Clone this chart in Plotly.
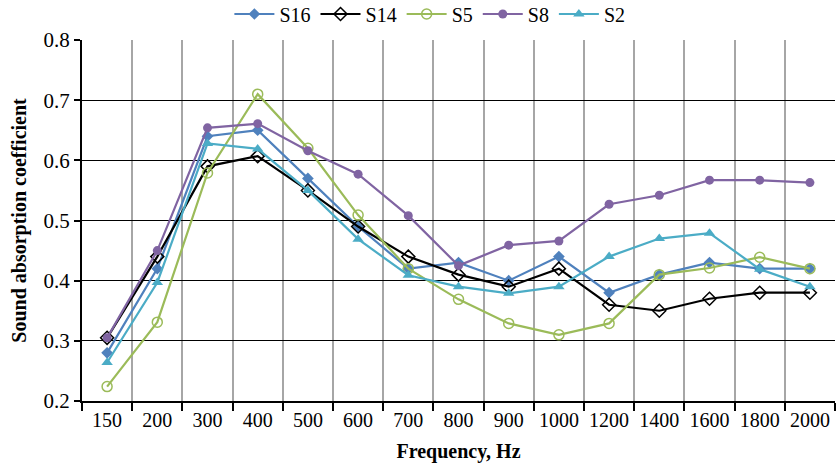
import plotly.graph_objects as go

freqs = ["150", "200", "300", "400", "500", "600", "700", "800", "900", "1000",
         "1200", "1400", "1600", "1800", "2000"]
s16 = [0.28, 0.42, 0.64, 0.65, 0.57, 0.49, 0.42, 0.43, 0.40, 0.44, 0.38, 0.41, 0.43, 0.42, 0.42]
s14 = [0.305, 0.44, 0.59, 0.607, 0.55, 0.49, 0.44, 0.41, 0.39, 0.42, 0.36, 0.35, 0.37, 0.38, 0.38]
s5 = [0.224, 0.331, 0.579, 0.71, 0.62, 0.509, 0.42, 0.369, 0.329, 0.31, 0.329, 0.41, 0.421, 0.439, 0.42]
s8 = [0.305, 0.45, 0.654, 0.661, 0.616, 0.577, 0.508, 0.425, 0.459, 0.466, 0.527, 0.542, 0.567, 0.567, 0.563]
s2 = [0.264, 0.397, 0.628, 0.619, 0.55, 0.469, 0.409, 0.39, 0.379, 0.39, 0.44, 0.47, 0.479, 0.419, 0.39]

series = [
    ("S16", s16, "#4F81BD", dict(symbol="diamond", size=9, color="#4F81BD")),
    ("S14", s14, "#000000", dict(symbol="diamond-open", size=10, color="#000000", line=dict(width=1.5))),
    ("S5", s5, "#9BBB59", dict(symbol="circle-open", size=10, color="#9BBB59", line=dict(width=1.5))),
    ("S8", s8, "#8064A2", dict(symbol="circle", size=9, color="#8064A2")),
    ("S2", s2, "#4BACC6", dict(symbol="triangle-up", size=10, color="#4BACC6")),
]

fig = go.Figure()
for name, vals, col, mk in series:
    fig.add_trace(go.Scatter(x=freqs, y=vals, name=name, mode="lines+markers",
                             line=dict(color=col, width=2.2), marker=mk))

font = "Liberation Serif, Times New Roman, serif"
fig.update_layout(
    width=838, height=469,
    margin=dict(l=82, r=3, t=40, b=68, autoexpand=False),
    plot_bgcolor="white", paper_bgcolor="white",
    font=dict(family=font, size=20, color="black"),
    legend=dict(orientation="h", x=0.462, xanchor="center", y=1.072, yanchor="middle",
                font=dict(size=20), itemwidth=40, bgcolor="rgba(0,0,0,0)"),
    xaxis=dict(type="category", tickson="boundaries", range=[-0.5, 14.5],
               showgrid=True, gridcolor="#A6A6A6", tickangle=0,
               gridwidth=2, showline=True, linecolor="black", linewidth=2,
               ticks="outside", ticklen=8, tickcolor="black", tickwidth=1.5,
               title=dict(text="<b>Frequency, Hz</b>", font=dict(size=20), standoff=14),
               tickfont=dict(size=20)),
    yaxis=dict(range=[0.2, 0.8], dtick=0.1, tickformat=".1f", showgrid=True,
               gridcolor="black", gridwidth=1, showline=True, linecolor="black",
               linewidth=2, ticks="outside", ticklen=6, tickcolor="black", zeroline=False,
               tickwidth=1.5,
               title=dict(text="<b>Sound absorption coefficient</b>", font=dict(size=20), standoff=12),
               tickfont=dict(size=21)),
)
fig.write_html("out.html")
